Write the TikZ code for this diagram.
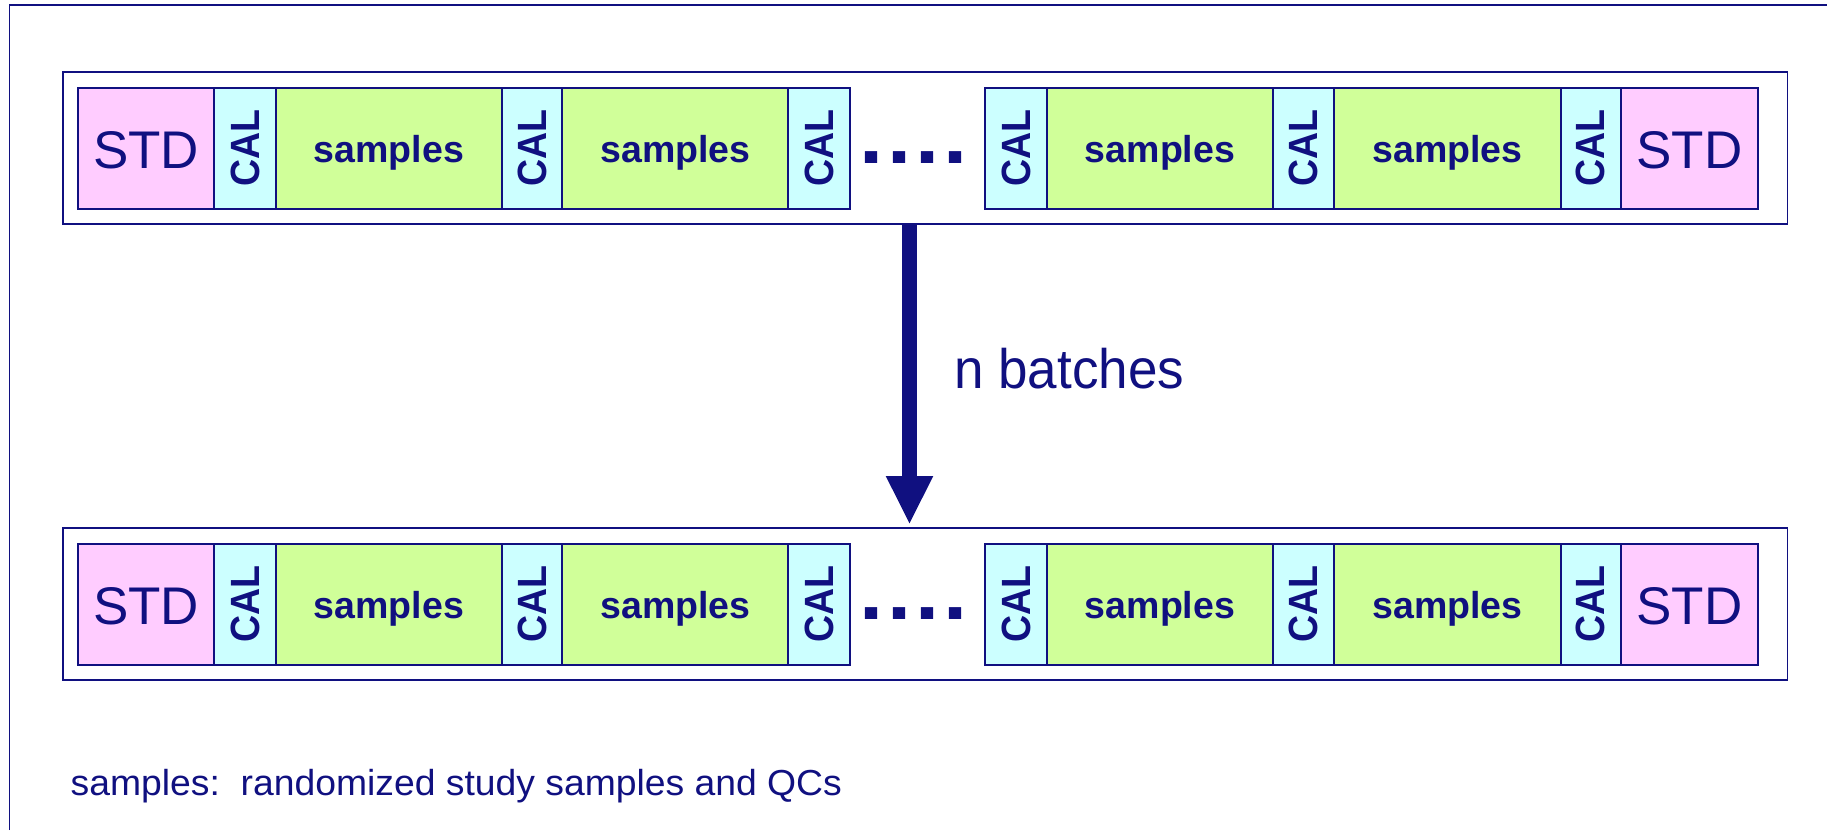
\documentclass[tikz,border=0pt]{standalone}
\usepackage{fontspec}
\setmainfont{Liberation Sans}
\usetikzlibrary{arrows.meta}

\definecolor{ink}{RGB}{16,16,128}
\definecolor{stdfill}{RGB}{255,204,255}
\definecolor{calfill}{RGB}{204,255,255}
\definecolor{smpfill}{RGB}{208,255,153}

% rotated calibrant label
\newcommand\calmark{\rotatebox{90}{\scalebox{1}[1.09]{CAL}}}
% run of four square dots between the two halves of a batch
\newcommand\dotrun{\scalebox{1}[0.92]{.\kern4.2pt.\kern4.2pt.\kern4.2pt.}}

\tikzset{
  seg/.style={draw=ink, line width=2pt, inner sep=0pt, anchor=north west,
    minimum height=121.2pt, text=ink},
  stdbox/.style={seg, fill=stdfill, font=\fontsize{53}{53}\selectfont,
    text height=40.8pt, text depth=0pt},
  calbox/.style={seg, fill=calfill, font=\fontsize{37.5}{37.5}\selectfont\bfseries},
  smpbox/.style={seg, fill=smpfill, font=\fontsize{37.5}{37.5}\selectfont\bfseries,
    text height=28.8pt, text depth=0pt},
  batchframe/.style={draw=ink, line width=1.8pt, inner sep=0pt, anchor=north west,
    minimum width=1724.2pt, minimum height=152pt},
  ellipsisdots/.style={anchor=base west, inner sep=0pt, text=ink,
    font=\fontsize{86.7}{86.7}\selectfont\bfseries},
  plaintext/.style={anchor=base west, inner sep=0pt, text=ink},
  batcharrow/.style={draw=ink, line width=15.6pt,
    -{Triangle[width=47.6pt,length=47.3pt,line width=0pt]}, shorten >=3.4pt},
}

% one analytical batch: #1 = name, #2 = top edge of its frame
\newcommand\batchrow[2]{%
  \node[batchframe] (#1) at (62.3,#2) {};
  \node[stdbox, minimum width=136.3pt] (#1-std1) at (77,#2+15.8) {STD};
  \node[calbox, minimum width=61.4pt]  (#1-cal1) at (213.3,#2+15.8) {\calmark};
  \node[smpbox, minimum width=226.3pt] (#1-smp1) at (274.7,#2+15.8) {samples};
  \node[calbox, minimum width=60.4pt]  (#1-cal2) at (501,#2+15.8) {\calmark};
  \node[smpbox, minimum width=225.9pt] (#1-smp2) at (561.4,#2+15.8) {samples};
  \node[calbox, minimum width=61.7pt]  (#1-cal3) at (787.3,#2+15.8) {\calmark};
  \node[ellipsisdots] (#1-dots) at (858.8,#2+92.3) {\dotrun};
  \node[calbox, minimum width=61.4pt]  (#1-cal4) at (984.3,#2+15.8) {\calmark};
  \node[smpbox, minimum width=226.6pt] (#1-smp3) at (1045.7,#2+15.8) {samples};
  \node[calbox, minimum width=60.7pt]  (#1-cal5) at (1272.3,#2+15.8) {\calmark};
  \node[smpbox, minimum width=226.8pt] (#1-smp4) at (1333,#2+15.8) {samples};
  \node[calbox, minimum width=60.2pt]  (#1-cal6) at (1559.8,#2+15.8) {\calmark};
  \node[stdbox, minimum width=136.5pt] (#1-std2) at (1620,#2+15.8) {STD};
}

\begin{document}
\begin{tikzpicture}[x=1pt, y=-1pt]
  \useasboundingbox (0,0) rectangle (1827,830);

  % page frame
  \draw[ink, line width=1.7pt] (9.5,830) -- (9.5,5) -- (1827,5);

  \batchrow{first}{71}
  \batchrow{last}{526.7}

  \draw[batcharrow] ([xshift=847.2pt]first.south west) -- ([xshift=847.2pt]last.north west);

  \node[plaintext, font=\fontsize{53}{53}\selectfont] (batchcount) at (954,388.3)
    {\scalebox{1}[1.05]{n batches}};

  \node[plaintext, font=\fontsize{37.3}{37.3}\selectfont] (legend) at (70.5,795)
    {\scalebox{1}[0.97]{samples:~\ randomized study samples and QCs}};
\end{tikzpicture}
\end{document}
